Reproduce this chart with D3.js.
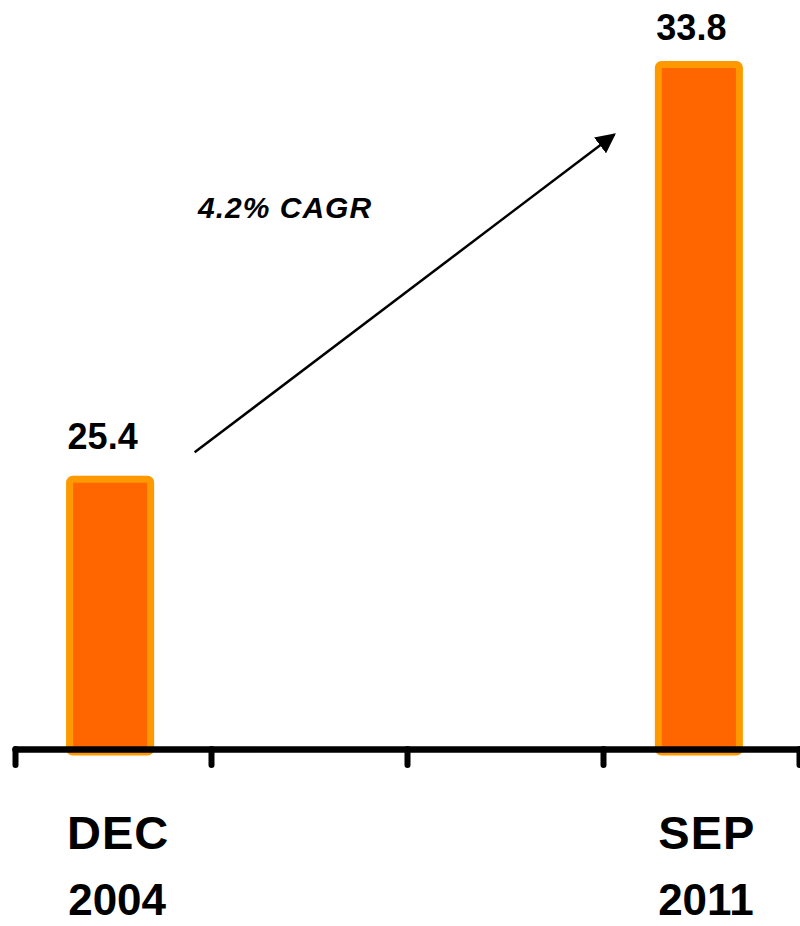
<!DOCTYPE html>
<html>
<head>
<meta charset="utf-8">
<script src="https://cdn.jsdelivr.net/npm/d3@7"></script>
<style>
  html, body { margin: 0; padding: 0; background: #fff; }
  svg { display: block; font-family: "Liberation Sans", Arial, sans-serif; }
</style>
</head>
<body>
<svg id="chart" width="800" height="926"></svg>
<script>
// Four period slots along the axis; only the first and last carry a bar.
const slots = [0, 1, 2, 3];
const months = ["DEC", "", "", "SEP"];
const years = ["2004", "", "", "2011"];
const values = [25.4, null, null, 33.8];
const valueLabels = ["25.4", "", "", "33.8"];
const growthLabel = "4.2% CAGR";

const svg = d3.select("#chart");

const left = 15, right = 799;
const baseline = 746;

const x = d3.scaleBand()
  .domain(slots)
  .range([left - 3, right - 2])
  .paddingInner(0.587)
  .paddingOuter(0.2935);

const slotScale = d3.scaleLinear().domain([0, slots.length]).range([left, right]);

const y = d3.scaleLinear().domain([20, 33.8]).range([baseline, 64.5]);

const bars = slots.filter(i => values[i] != null);

// Bars
svg.append("g")
  .selectAll("rect")
  .data(bars)
  .join("rect")
  .attr("x", i => x(i))
  .attr("y", i => y(values[i]))
  .attr("width", x.bandwidth())
  .attr("height", i => baseline + 6 - y(values[i]))
  .attr("rx", 3)
  .attr("fill", "#FF6600")
  .attr("stroke", "#FF9900")
  .attr("stroke-width", 7);

// Value labels
svg.append("g")
  .selectAll("text")
  .data(bars)
  .join("text")
  .attr("x", i => x(i) - 2)
  .attr("y", (i, k) => y(values[i]) - (k === 0 ? 30 : 25))
  .attr("text-anchor", "start")
  .attr("font-size", 36)
  .attr("font-weight", "bold")
  .attr("fill", "#000")
  .text(i => valueLabels[i]);

// Axis with ticks on slot boundaries
const axis = d3.axisBottom(slotScale)
  .tickValues(d3.range(slots.length + 1))
  .tickSize(16)
  .tickSizeOuter(0)
  .tickFormat("");

const axisG = svg.append("g")
  .attr("transform", `translate(0,${baseline + 3})`)
  .call(axis);
axisG.select(".domain")
  .attr("stroke", "#000")
  .attr("stroke-width", 6.5)
  .attr("stroke-linecap", "round");
axisG.selectAll(".tick line")
  .attr("stroke", "#000")
  .attr("stroke-width", 6)
  .attr("stroke-linecap", "round");

// Category labels (two lines)
const catG = svg.append("g")
  .attr("font-weight", "bold")
  .attr("fill", "#000")
  .attr("text-anchor", "middle");
catG.selectAll("text.month")
  .data(bars)
  .join("text")
  .attr("class", "month")
  .attr("x", i => x(i) + x.bandwidth() / 2 + 8)
  .attr("y", 849)
  .attr("font-size", 47)
  .attr("letter-spacing", 1)
  .text(i => months[i]);
catG.selectAll("text.year")
  .data(bars)
  .join("text")
  .attr("class", "year")
  .attr("x", i => x(i) + x.bandwidth() / 2 + 7)
  .attr("y", 915)
  .attr("font-size", 44)
  .text(i => years[i]);

// Growth arrow between the two bars
const defs = svg.append("defs");
defs.append("marker")
  .attr("id", "arrowhead")
  .attr("viewBox", "0 0 10 10")
  .attr("refX", 9)
  .attr("refY", 5)
  .attr("markerWidth", 8)
  .attr("markerHeight", 8)
  .attr("markerUnits", "strokeWidth")
  .attr("orient", "auto")
  .append("path")
  .attr("d", "M0,0 L10,5 L0,10 Z")
  .attr("fill", "#000");

const first = bars[0], last = bars[bars.length - 1];
const x1 = x(first) + x.bandwidth() + 44, y1 = y(values[first]) - 27;
const x2 = x(last) - 44, y2 = y(values[last]) + 70;
svg.append("line")
  .attr("x1", x1).attr("y1", y1)
  .attr("x2", x2).attr("y2", y2)
  .attr("stroke", "#000")
  .attr("stroke-width", 2.5)
  .attr("marker-end", "url(#arrowhead)");

svg.append("text")
  .attr("x", 198)
  .attr("y", 218)
  .attr("font-size", 30)
  .attr("font-weight", "bold")
  .attr("font-style", "italic")
  .attr("letter-spacing", 1)
  .attr("fill", "#000")
  .text(growthLabel);
</script>
</body>
</html>
